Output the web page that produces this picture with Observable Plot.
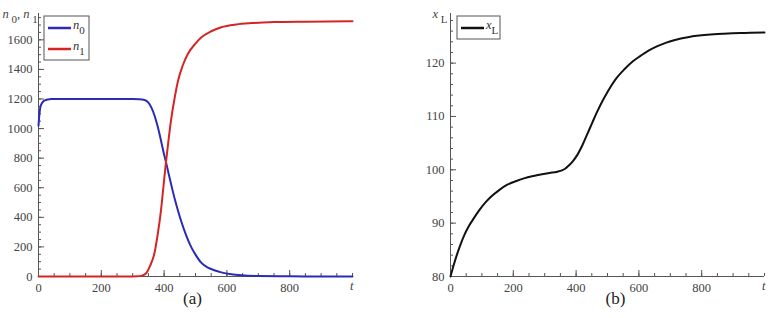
<!DOCTYPE html>
<html><head><meta charset="utf-8">
<script src="https://cdn.jsdelivr.net/npm/d3@7"></script>
<script src="https://cdn.jsdelivr.net/npm/@observablehq/plot@0.6"></script>
<style>
body{margin:0;background:#fff;}
#wrap{display:flex;width:773px;height:318px;}
#wrap svg{display:block;}
#wrap svg text{font-family:"Liberation Serif","Times New Roman",Tinos,Times,"DejaVu Serif","Noto Serif",serif !important;}
</style></head><body><div id="wrap"></div>
<script>
// ---- data: panel (a)
const tN0 = [0,3,6,10,15,20,30,40,100,200,300,320,340,350,360,370,380,390,400,406,415,425,435,445,455,470,486,500,518,540,560,582,614,646,700,800,900,1000];
const n0 = [1020,1100,1145,1168,1183,1190,1197,1200,1200,1200,1200,1199,1192,1175,1140,1085,1010,920,825,773,690,600,515,440,370,280,200,148,94,60,42,28,15,8,3,1,0.5,0];
const tN1 = [0,100,200,300,315,330,342,355,369,380,390,398,406,414,422,433,444,460,476,500,518,550,582,630,678,750,850,1000];
const n1 = [0,0,0,0,1,6,20,70,155,290,446,610,773,920,1055,1200,1320,1430,1506,1575,1615,1658,1685,1704,1713,1720,1723,1725];
// ---- data: panel (b)
const tXL = [0,10,20,30,45,60,74,90,110,128,155,181,210,234,260,287,315,340,355,365,375,388,404,420,436,452,468,484,500,525,553,580,606,632,659,685,712,760,819,870,925,1000];
const xL = [80,82.1,84.0,85.7,87.9,89.6,90.9,92.3,93.8,94.9,96.2,97.2,97.9,98.4,98.8,99.1,99.4,99.65,99.9,100.2,100.7,101.5,102.8,104.6,106.75,108.9,111.0,112.9,114.6,116.9,118.8,120.3,121.4,122.4,123.2,123.8,124.3,124.9,125.3,125.5,125.65,125.75];
// ---- ticks
const tMajor = [0,200,400,600,800];
const tMinor = d3.range(0, 1001, 50);
const aMajor = [0,200,400,600,800,1000,1200,1400,1600];
const aMinor = d3.range(0, 1751, 50);
const bMajor = [80,90,100,110,120];
const bMinor = d3.range(80, 129, 2);

const FONT = '"Liberation Serif","Times New Roman",Tinos,Times,"DejaVu Serif","Noto Serif",serif';
const AX = "#555";
const BLUE = "#2b2bb8", RED = "#d42525", BLACK = "#111";

function axes(yMajor, yMinor, yBase) {
  return [
    Plot.ruleX([0], {stroke: AX, strokeWidth: 1}),
    Plot.ruleY([yBase], {stroke: AX, strokeWidth: 1}),
    Plot.axisY({ticks: yMinor, tickSize: -3, tickFormat: () => "", stroke: AX, label: null}),
    Plot.axisY({ticks: yMajor, tickSize: -6, tickFormat: () => "", stroke: AX, label: null}),
    Plot.axisY({ticks: yMajor, tickSize: 0, tickPadding: 6, tickFormat: "d", fill: "#444", fontSize: 12.5, label: null}),
    Plot.axisX({ticks: tMinor, tickSize: -3, tickFormat: () => "", stroke: AX, label: null}),
    Plot.axisX({ticks: tMajor, tickSize: -6, tickFormat: () => "", stroke: AX, label: null}),
    Plot.axisX({ticks: tMajor, tickSize: 0, tickPadding: 7, tickFormat: "d", fill: "#444", fontSize: 12.5, label: null}),
    Plot.text(["t"], {frameAnchor: "bottom-right", dx: 1, dy: 13, fontStyle: "italic", fontSize: 12.5, fill: "#444"})
  ];
}

const plotA = Plot.plot({
  width: 380, height: 318, marginTop: 13, marginBottom: 42, marginLeft: 38, marginRight: 28,
  style: {fontSize: "12px", background: "white", overflow: "visible"},
  x: {domain: [0, 1000]},
  y: {domain: [0, 1778]},
  marks: [
    ...axes(aMajor, aMinor, 0),
    Plot.line(n0, {x: tN0, y: n0, stroke: BLUE, strokeWidth: 2, curve: "monotone-x"}),
    Plot.line(n1, {x: tN1, y: n1, stroke: RED, strokeWidth: 2, curve: "monotone-x"}),
    Plot.text(["YLAB_A"], {frameAnchor: "top-left", dx: -36, dy: -4, textAnchor: "start", fontSize: 12.5, fill: "#444"}),
    Plot.text(["(a)"], {frameAnchor: "bottom", dx: -3, dy: 27, fontSize: 17, fill: "#222"})
  ]
});

const plotB = Plot.plot({
  width: 393, height: 318, marginTop: 13, marginBottom: 42, marginLeft: 70, marginRight: 9,
  style: {fontSize: "12px", background: "white", overflow: "visible"},
  x: {domain: [0, 1000]},
  y: {domain: [80, 129.3]},
  marks: [
    ...axes(bMajor, bMinor, 80),
    Plot.line(xL, {x: tXL, y: xL, stroke: BLACK, strokeWidth: 2, curve: "monotone-x"}),
    Plot.text(["YLAB_B"], {frameAnchor: "top-left", dx: -18, dy: -4, textAnchor: "start", fontSize: 12.5, fill: "#444"}),
    Plot.text(["(b)"], {frameAnchor: "bottom", dx: 8, dy: 27, fontSize: 17, fill: "#222"})
  ]
});

const wrap = document.getElementById("wrap");
wrap.appendChild(plotA);
wrap.appendChild(plotB);

// rich text with subscripts
function sub(textSel, parts, subSize) {
  textSel.text(null);
  parts.forEach(([s, kind]) => {
    const ts = textSel.append("tspan").text(s);
    if (kind === "i") ts.attr("font-style", "italic");
    if (kind === "s") ts.attr("baseline-shift", "-45%").attr("font-size", subSize).attr("font-style", "normal");
  });
}
d3.selectAll("svg text").each(function () {
  const t = d3.select(this);
  const s = t.text();
  if (s === "YLAB_A") sub(t, [["n", "i"], [" 0", "s"], [",", ""], [" n", "i"], [" 1", "s"]], 11);
  if (s === "YLAB_B") sub(t, [["x", "i"], [" L", "s"]], 11);
});

// legends
function legend(svg, x, y, w, items) {
  const g = d3.select(svg).append("g").attr("font-size", 12.5).attr("text-anchor", "start");
  const h = items.length * 21 + 2;
  g.append("rect").attr("x", x).attr("y", y).attr("width", w).attr("height", h)
    .attr("fill", "white").attr("stroke", AX).attr("stroke-width", 1);
  items.forEach((it, i) => {
    const yy = y + 12 + i * 21;
    g.append("line").attr("x1", x + 4).attr("x2", x + 27).attr("y1", yy).attr("y2", yy)
      .attr("stroke", it.color).attr("stroke-width", 2.5);
    const t = g.append("text").attr("x", x + 29).attr("y", yy + 1).attr("fill", "#333")
      .attr("text-anchor", "start");
    sub(t, [[it.base, "i"], [it.sub, "s"]], 11);
  });
}
legend(plotA, 44, 16, 45, [{color: BLUE, base: "n", sub: "0"}, {color: RED, base: "n", sub: "1"}]);
legend(plotB, 77, 16, 43, [{color: BLACK, base: "x", sub: "L"}]);
</script>
</body></html>
